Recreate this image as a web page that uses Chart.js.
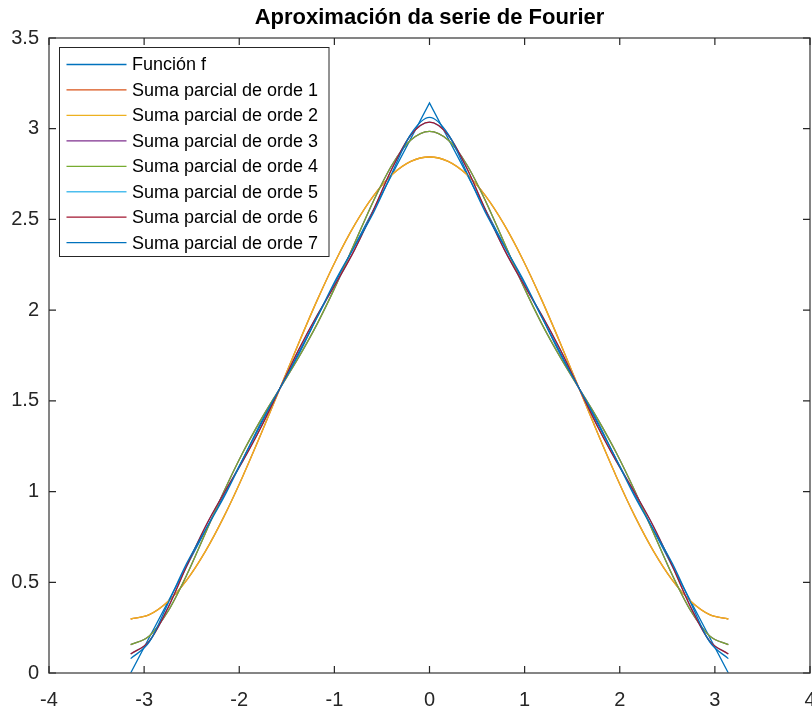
<!DOCTYPE html>
<html>
<head>
<meta charset="utf-8">
<script src="https://cdn.jsdelivr.net/npm/chart.js@4/dist/chart.umd.min.js"></script>
<style>
  body { margin: 0; background: #fff; }
  #wrap { width: 812px; height: 709px; }
</style>
</head>
<body>
<div id="wrap"><canvas id="chart" width="812" height="709"></canvas></div>
<script>
// sample points, x = -pi .. pi
var xs = [-3.1416, -2.9452, -2.7489, -2.5525, -2.3562, -2.1598, -1.9635, -1.7671, -1.5708,
          -1.3744, -1.1781, -0.9817, -0.7854, -0.5890, -0.3927, -0.1963, 0,
          0.1963, 0.3927, 0.5890, 0.7854, 0.9817, 1.1781, 1.3744, 1.5708,
          1.7671, 1.9635, 2.1598, 2.3562, 2.5525, 2.7489, 2.9452, 3.1416];

// f itself (triangle)
var fX = [-3.1416, 0, 3.1416];
var fY = [0, 3.1416, 0];

var orde1 = [0.2976, 0.3220, 0.3945, 0.5121, 0.6705, 0.8634, 1.0835, 1.3224, 1.5708,
             1.8192, 2.0580, 2.2782, 2.4711, 2.6295, 2.7471, 2.8196, 2.8440,
             2.8196, 2.7471, 2.6295, 2.4711, 2.2782, 2.0580, 1.8192, 1.5708,
             1.3224, 1.0835, 0.8634, 0.6705, 0.5121, 0.3945, 0.3220, 0.2976];
var orde2 = orde1.slice(); // no cos(2x) term
var orde3 = [0.1561, 0.2044, 0.3403, 0.5397, 0.7705, 1.0022, 1.2143, 1.4010, 1.5708,
             1.7406, 1.9273, 2.1394, 2.3711, 2.6019, 2.8013, 2.9372, 2.9855,
             2.9372, 2.8013, 2.6019, 2.3711, 2.1394, 1.9273, 1.7406, 1.5708,
             1.4010, 1.2143, 1.0022, 0.7705, 0.5397, 0.3403, 0.2044, 0.1561];
var orde4 = orde3.slice();
var orde5 = [0.1052, 0.1761, 0.3598, 0.5897, 0.8065, 0.9922, 1.1672, 1.3586, 1.5708,
             1.7829, 1.9744, 2.1494, 2.3351, 2.5519, 2.7818, 2.9655, 3.0364,
             2.9655, 2.7818, 2.5519, 2.3351, 2.1494, 1.9744, 1.7829, 1.5708,
             1.3586, 1.1672, 0.9922, 0.8065, 0.5897, 0.3598, 0.1761, 0.1052];
var orde6 = orde5.slice();
var orde7 = [0.0792, 0.1710, 0.3838, 0.6041, 0.7882, 0.9706, 1.1771, 1.3841, 1.5708,
             1.7575, 1.9645, 2.1710, 2.3534, 2.5375, 2.7578, 2.9706, 3.0624,
             2.9706, 2.7578, 2.5375, 2.3534, 2.1710, 1.9645, 1.7575, 1.5708,
             1.3841, 1.1771, 0.9706, 0.7882, 0.6041, 0.3838, 0.1710, 0.0792];

var labels = ["Función f", "Suma parcial de orde 1", "Suma parcial de orde 2",
              "Suma parcial de orde 3", "Suma parcial de orde 4", "Suma parcial de orde 5",
              "Suma parcial de orde 6", "Suma parcial de orde 7"];
var colors = ['#0072BD', '#D95319', '#EDB120', '#7E2F8E', '#77AC30', '#4DBEEE', '#A2142F', '#0072BD'];

function pts(xv, yv) {
  return xv.map(function(x, i) { return {x: x, y: yv[i]}; });
}

var series = [pts(fX, fY), pts(xs, orde1), pts(xs, orde2), pts(xs, orde3),
              pts(xs, orde4), pts(xs, orde5), pts(xs, orde6), pts(xs, orde7)];

var datasets = series.map(function(d, i) {
  return {
    label: labels[i],
    data: d,
    borderColor: colors[i],
    borderWidth: 1.3,
    pointRadius: 0,
    fill: false,
    tension: 0,
    cubicInterpolationMode: i === 0 ? 'default' : 'monotone',
    order: series.length - i   // later series on top, like matlab
  };
});

var axisColor = '#262626';

// box + inward ticks
var boxPlugin = {
  id: 'box',
  afterDraw: function(chart) {
    var ctx = chart.ctx, a = chart.chartArea;
    var xs_ = chart.scales.x, ys_ = chart.scales.y;
    ctx.save();
    ctx.strokeStyle = '#5c5c5c';
    ctx.lineWidth = 1.5;
    ctx.strokeRect(a.left, a.top, a.right - a.left, a.bottom - a.top);
    ctx.lineWidth = 1.2;
    ctx.strokeStyle = axisColor;
    ctx.beginPath();
    xs_.ticks.forEach(function(t) {
      var px = xs_.getPixelForValue(t.value);
      ctx.moveTo(px, a.bottom); ctx.lineTo(px, a.bottom - 7);
      ctx.moveTo(px, a.top); ctx.lineTo(px, a.top + 7);
    });
    ys_.ticks.forEach(function(t) {
      var py = ys_.getPixelForValue(t.value);
      ctx.moveTo(a.left, py); ctx.lineTo(a.left + 7, py);
      ctx.moveTo(a.right, py); ctx.lineTo(a.right - 7, py);
    });
    ctx.stroke();
    ctx.restore();
  }
};

// legend box inside axes, top left
var legendPlugin = {
  id: 'boxLegend',
  afterDraw: function(chart) {
    var ctx = chart.ctx, a = chart.chartArea;
    var left = a.left + 10.5, top = a.top + 9.5;
    var w = 269.5, h = 209;
    var rowH = 25.45;
    ctx.save();
    ctx.fillStyle = '#fff';
    ctx.fillRect(left, top, w, h);
    ctx.strokeStyle = axisColor;
    ctx.lineWidth = 1;
    ctx.strokeRect(left, top, w, h);
    ctx.font = '18px "Liberation Sans", Arial, sans-serif';
    ctx.textBaseline = 'middle';
    ctx.fillStyle = '#000';
    chart.data.datasets.forEach(function(ds, i) {
      var y = top + 17 + i * rowH;
      ctx.strokeStyle = ds.borderColor;
      ctx.lineWidth = 1.3;
      ctx.beginPath();
      ctx.moveTo(left + 7, y);
      ctx.lineTo(left + 67, y);
      ctx.stroke();
      ctx.fillText(ds.label, left + 72.5, y + 1);
    });
    ctx.restore();
  }
};

new Chart(document.getElementById('chart'), {
  type: 'line',
  data: { datasets: datasets },
  options: {
    responsive: false,
    animation: false,
    layout: { padding: { top: 0, right: 2, left: 0, bottom: 0 } },
    plugins: {
      legend: { display: false },
      tooltip: { enabled: false },
      title: {
        display: true,
        fullSize: false,
        text: 'Aproximación da serie de Fourier',
        color: '#000',
        font: { family: '"Liberation Sans", Arial, sans-serif', size: 22, weight: 'bold', lineHeight: 1.2 },
        padding: { top: 5, bottom: 6.6 }
      }
    },
    scales: {
      x: {
        type: 'linear',
        min: -4, max: 4,
        grid: { display: false, drawTicks: false },
        border: { display: false },
        ticks: {
          stepSize: 1,
          padding: 15,
          color: axisColor,
          maxRotation: 0,
          font: { family: '"Liberation Sans", Arial, sans-serif', size: 20 }
        },
        afterFit: function(s) { s.height = 36; s.paddingLeft = 0; s.paddingRight = 0; }
      },
      y: {
        min: 0, max: 3.5,
        grid: { display: false, drawTicks: false },
        border: { display: false },
        ticks: {
          stepSize: 0.5,
          padding: 10,
          color: axisColor,
          font: { family: '"Liberation Sans", Arial, sans-serif', size: 20 },
          callback: function(v) { return String(Math.round(v * 10) / 10); }
        },
        afterFit: function(s) { s.width = 49; s.paddingTop = 0; s.paddingBottom = 0; }
      }
    }
  },
  plugins: [boxPlugin, legendPlugin]
});
</script>
</body>
</html>
